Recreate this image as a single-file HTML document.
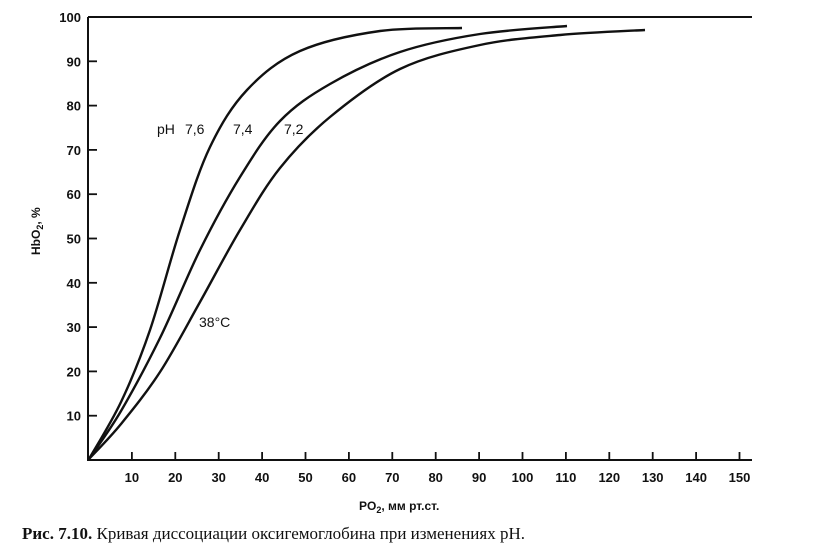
<!DOCTYPE html>
<html><head><meta charset="utf-8"><style>
body{margin:0;background:#fff;width:826px;height:556px;overflow:hidden}
svg{display:block}
text{font-family:"Liberation Sans",sans-serif;fill:#111}
</style></head><body>
<svg id="s" width="826" height="556" viewBox="0 0 826 556">
<g stroke="#111" stroke-width="2" fill="none">
<line x1="88" y1="17" x2="752" y2="17"/>
<line x1="88" y1="17" x2="88" y2="461"/>
<line x1="88" y1="460" x2="752" y2="460"/>
</g>
<g id="ticks" stroke="#111" stroke-width="1.8"></g>
<g id="lbl" font-size="13" font-weight="bold"></g>
<g id="curves" stroke="#111" stroke-width="2.4" fill="none" stroke-linejoin="round"></g>
<text x="157" y="134" font-size="14">pH</text>
<text x="185" y="134" font-size="14">7,6</text>
<text x="233" y="134" font-size="14">7,4</text>
<text x="284" y="134" font-size="14">7,2</text>
<text x="199" y="327" font-size="14">38°C</text>
<text transform="translate(40,255) rotate(-90)" font-size="12" font-weight="bold">HbO<tspan font-size="9" dy="3">2</tspan><tspan dy="-3">, %</tspan></text>
<text x="359" y="510" font-size="12" font-weight="bold">PO<tspan font-size="9" dy="3">2</tspan><tspan dy="-3">, мм рт.ст.</tspan></text>
<text x="22" y="539" font-size="17" style="font-family:'Liberation Serif',serif"><tspan font-weight="bold">Рис. 7.10.</tspan> Кривая диссоциации оксигемоглобина при изменениях pH.</text>
</svg>
<script>
var X=function(p){return 88.5+p*4.34},Y=function(s){return 460-s*4.43};
var t=document.getElementById('ticks'),l=document.getElementById('lbl'),ns='http://www.w3.org/2000/svg';
function el(g,n,a,txt){var e=document.createElementNS(ns,n);for(var k in a)e.setAttribute(k,a[k]);if(txt)e.textContent=txt;g.appendChild(e);}
for(var i=1;i<=15;i++){var x=X(i*10);el(t,'line',{x1:x,y1:460,x2:x,y2:452});el(l,'text',{x:x,y:482,'text-anchor':'middle'},String(i*10));}
for(var i=1;i<=10;i++){var y=Y(i*10);el(t,'line',{x1:88,y1:y,x2:97,y2:y});el(l,'text',{x:81,y:y+5,'text-anchor':'end'},String(i*10));}
var c=document.getElementById('curves');
function cr(p){var d='M'+p[0][0]+','+p[0][1];
 for(var i=0;i<p.length-1;i++){var p0=p[i-1]||p[i],p1=p[i],p2=p[i+1],p3=p[i+2]||p2;
  d+='C'+(p1[0]+(p2[0]-p0[0])/6).toFixed(1)+','+(p1[1]+(p2[1]-p0[1])/6).toFixed(1)+' '+(p2[0]-(p3[0]-p1[0])/6).toFixed(1)+','+(p2[1]-(p3[1]-p1[1])/6).toFixed(1)+' '+p2[0]+','+p2[1];}
 return d;}
[
[[89,459],[121,402],[150,330],[180,230],[210,147],[247,90],[300,51],[380,31],[462,28]],
[[89,459],[121,411],[160,338],[200,250],[240,177],[280,121],[330,84],[400,52],[480,34],[567,26]],
[[89,459],[121,424],[160,372],[200,302],[240,230],[280,168],[330,117],[400,69],[480,45],[560,35],[645,30]]
].forEach(function(p){el(c,'path',{d:cr(p)});});
</script>
</body></html>
